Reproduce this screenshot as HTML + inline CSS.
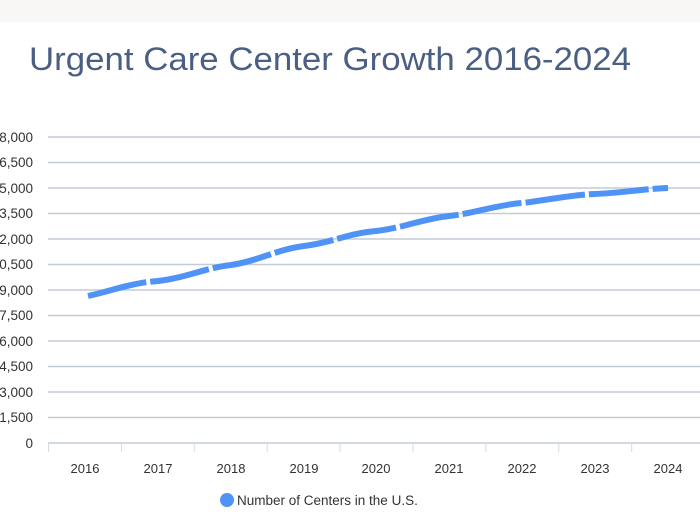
<!DOCTYPE html>
<html><head><meta charset="utf-8"><style>
body{margin:0;width:700px;height:514px;overflow:hidden;background:#fff;font-family:"Liberation Sans",sans-serif}
</style></head><body>
<svg width="700" height="514" xmlns="http://www.w3.org/2000/svg" font-family="Liberation Sans, sans-serif">
<rect x="0" y="0" width="700" height="22" fill="#f8f7f5"/>
<text x="29" y="70" font-size="32" fill="#4a5f82" textLength="602" lengthAdjust="spacingAndGlyphs">Urgent Care Center Growth 2016-2024</text>
<g stroke="#c3ccd6" stroke-width="1.5">
<line x1="48" x2="700" y1="137" y2="137"/><line x1="48" x2="700" y1="162.5" y2="162.5"/>
<line x1="48" x2="700" y1="188" y2="188"/><line x1="48" x2="700" y1="213.5" y2="213.5"/>
<line x1="48" x2="700" y1="239" y2="239"/><line x1="48" x2="700" y1="264.5" y2="264.5"/>
<line x1="48" x2="700" y1="290" y2="290"/><line x1="48" x2="700" y1="315.5" y2="315.5"/>
<line x1="48" x2="700" y1="341" y2="341"/><line x1="48" x2="700" y1="366.5" y2="366.5"/>
<line x1="48" x2="700" y1="392" y2="392"/><line x1="48" x2="700" y1="417.5" y2="417.5"/>
<line x1="48" x2="700" y1="443" y2="443"/>
</g>
<g stroke="#d5dbe2" stroke-width="1">
<line x1="48.5" x2="48.5" y1="443" y2="452"/><line x1="121.4" x2="121.4" y1="443" y2="452"/>
<line x1="194.3" x2="194.3" y1="443" y2="452"/><line x1="267.2" x2="267.2" y1="443" y2="452"/>
<line x1="340.1" x2="340.1" y1="443" y2="452"/><line x1="413" x2="413" y1="443" y2="452"/>
<line x1="485.9" x2="485.9" y1="443" y2="452"/><line x1="558.8" x2="558.8" y1="443" y2="452"/>
<line x1="631.7" x2="631.7" y1="443" y2="452"/>
</g>
<g font-size="13.5" fill="#333" text-anchor="end">
<text x="33" y="142">18,000</text><text x="33" y="167">16,500</text><text x="33" y="193">15,000</text>
<text x="33" y="218">13,500</text><text x="33" y="244">12,000</text><text x="33" y="269">10,500</text>
<text x="33" y="295">9,000</text><text x="33" y="320">7,500</text><text x="33" y="346">6,000</text>
<text x="33" y="371">4,500</text><text x="33" y="397">3,000</text><text x="33" y="422">1,500</text>
<text x="33" y="448">0</text>
</g>
<g font-size="13" fill="#333" text-anchor="middle">
<text x="85" y="473">2016</text><text x="158" y="473">2017</text><text x="231" y="473">2018</text>
<text x="304" y="473">2019</text><text x="376" y="473">2020</text><text x="449" y="473">2021</text>
<text x="522" y="473">2022</text><text x="595" y="473">2023</text><text x="668" y="473">2024</text>
</g>
<path d="M88,296 C115,290 130,283 158,281 C185,278 205,268 231,265 C258,261 278,249 304,246 C330,243 350,233 376,231 C403,228 422,219 449,216 C476,213 496,205 522,203 C549,200 568,195 595,194 C622,193 642,189 668,188" fill="none" stroke="#4f93f7" stroke-width="6" stroke-dasharray="60 4" stroke-linecap="butt"/>
<circle cx="227" cy="500" r="7" fill="#4f93f7"/>
<text x="237" y="505" font-size="13.5" fill="#333">Number of Centers in the U.S.</text>
</svg>
</body></html>
